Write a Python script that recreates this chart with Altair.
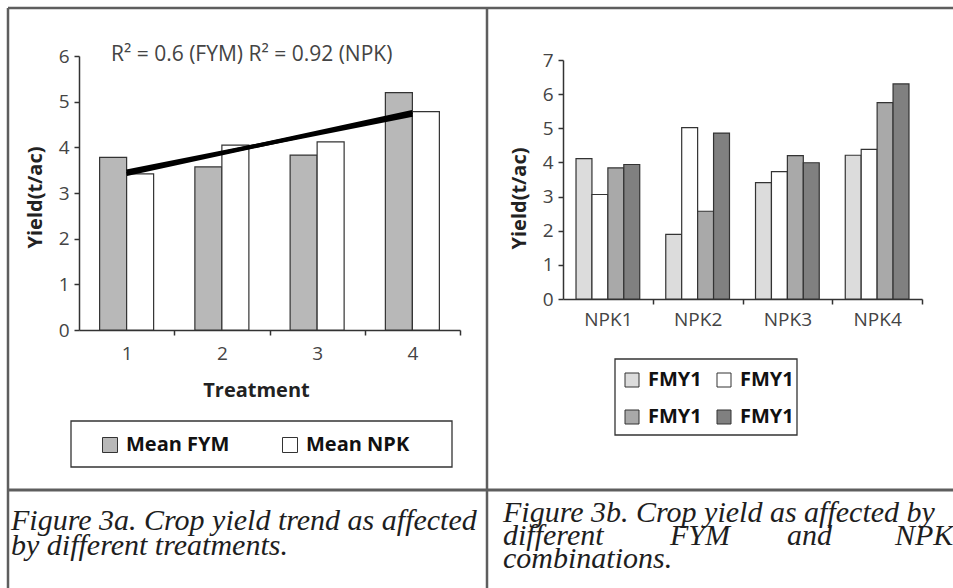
import altair as alt
import pandas as pd

# ---- Figure 3a: mean yields per treatment ----
treatment = [1, 2, 3, 4]
mean_fym = [3.78, 3.57, 3.83, 5.20]
mean_npk = [3.42, 4.05, 4.12, 4.78]
left_series = ["Mean FYM", "Mean NPK"]

# ---- Figure 3b: yields per FYM / NPK combination ----
combos = ["NPK1", "NPK2", "NPK3", "NPK4"]
fmy_a = [4.11, 1.89, 3.41, 4.21]
fmy_b = [3.06, 5.02, 3.73, 4.38]
fmy_c = [3.84, 2.57, 4.20, 5.75]
fmy_d = [3.94, 4.86, 3.99, 6.30]
right_series = ["a", "b", "c", "d"]

FONT = "Open Sans"
SERIF = "Liberation Serif"
INK = "#333333"
LABEL = "#444444"

left_df = pd.DataFrame(
    [{"t": t, "series": left_series[0], "v": v} for t, v in zip(treatment, mean_fym)]
    + [{"t": t, "series": left_series[1], "v": v} for t, v in zip(treatment, mean_npk)]
)
right_df = pd.DataFrame(
    [
        {"combo": c, "series": s, "v": v}
        for s, vals in zip(right_series, [fmy_a, fmy_b, fmy_c, fmy_d])
        for c, v in zip(combos, vals)
    ]
)
one = pd.DataFrame({"k": [0]})

# ---------------- left panel ----------------
XL = (79, 460)
XL_STEP = (XL[1] - XL[0]) / len(treatment)
xl_scale = alt.Scale(domain=treatment, range=list(XL), paddingInner=0.433, paddingOuter=0.2165)
yl_scale = alt.Scale(domain=[0, 6], range=[330, 56], nice=False)

# ticks sit between the categories, labels stay centred under them
xl_axis = alt.Axis(
    orient="bottom", offset=-258, title="Treatment", titleX=256, titleY=60,
    titleBaseline="middle", titleFont=FONT, titleFontSize=20, titleFontWeight="bold",
    titleColor="#222", labelAngle=0, labelFont=FONT, labelFontSize=19, labelColor=LABEL,
    labelPadding=9, tickOffset=XL_STEP / 2, labelOffset=-XL_STEP / 2, tickSize=5,
    tickColor=INK, domainColor=INK, domainWidth=1.5, tickWidth=1.5,
)
yl_axis = alt.Axis(
    orient="left", offset=-79, values=[0, 1, 2, 3, 4, 5, 6], title="Yield(t/ac)",
    titleAngle=270, titleAlign="center", titleBaseline="middle", titleX=-44, titleY=197,
    titleFont=FONT, titleFontSize=20, titleFontWeight="bold", titleColor="#222",
    labelFont=FONT, labelFontSize=19, labelColor=LABEL, labelPadding=5, tickSize=5,
    tickColor=INK, domainColor=INK, domainWidth=1.5, tickWidth=1.5, grid=False,
)

left_bars = alt.Chart(left_df).mark_bar(stroke=INK, strokeWidth=1.2).encode(
    x=alt.X("t:O", scale=xl_scale, axis=xl_axis),
    xOffset=alt.XOffset("series:N", scale=alt.Scale(domain=left_series, paddingInner=0)),
    y=alt.Y("v:Q", scale=yl_scale, axis=yl_axis),
    color=alt.Color(
        "series:N",
        scale=alt.Scale(domain=left_series, range=["#b8b8b8", "#ffffff"]),
        legend=alt.Legend(
            orient="none", legendX=100, legendY=435, direction="horizontal", columns=2,
            columnPadding=50, title=None, symbolType="square", symbolSize=225,
            symbolStrokeColor=INK, symbolStrokeWidth=1, labelFont=FONT, labelFontSize=20,
            labelFontWeight="bold", labelColor="#111", labelOffset=6, padding=0,
        ),
    ),
)

# linear trend of each series (the two fits lie almost on top of each other)
left_trend = alt.Chart(left_df).transform_regression(
    "t", "v", groupby=["series"]
).mark_line(color="black", strokeWidth=4).encode(
    x=alt.X("t:O", scale=xl_scale, axis=xl_axis),
    y=alt.Y("v:Q", scale=yl_scale, axis=yl_axis),
    detail="series:N",
)

r2_text = alt.Chart(one).mark_text(
    text="R² = 0.6 (FYM)  R² = 0.92 (NPK)", font=FONT, fontSize=21, color=LABEL,
    align="left", baseline="alphabetic",
).encode(x=alt.value(111), y=alt.value(61))

left_panel = alt.layer(left_bars, left_trend)

# ---------------- right panel ----------------
XR = (563, 922)
XR_STEP = (XR[1] - XR[0]) / len(combos)
xr_scale = alt.Scale(domain=combos, range=list(XR), paddingInner=0.29, paddingOuter=0.145)
yr_scale = alt.Scale(domain=[0, 7], range=[299, 60], nice=False)

right_bars = alt.Chart(right_df).mark_bar(stroke=INK, strokeWidth=1.2).encode(
    x=alt.X(
        "combo:N", scale=xr_scale,
        axis=alt.Axis(
            orient="bottom", offset=-289, title=None, labelAngle=0, labelFont=FONT,
            labelFontSize=19, labelColor=LABEL, labelPadding=6, tickOffset=XR_STEP / 2,
            labelOffset=-XR_STEP / 2, tickSize=5, tickColor=INK, domainColor=INK,
            domainWidth=1.5, tickWidth=1.5,
        ),
    ),
    xOffset=alt.XOffset("series:N", scale=alt.Scale(domain=right_series, paddingInner=0)),
    y=alt.Y(
        "v:Q", scale=yr_scale,
        axis=alt.Axis(
            orient="left", offset=-563, values=[0, 1, 2, 3, 4, 5, 6, 7], title="Yield(t/ac)",
            titleAngle=270, titleAlign="center", titleBaseline="middle", titleX=-44,
            titleY=198, titleFont=FONT, titleFontSize=20, titleFontWeight="bold",
            titleColor="#222", labelFont=FONT, labelFontSize=19, labelColor=LABEL,
            labelPadding=5, tickSize=5, tickColor=INK, domainColor=INK, domainWidth=1.5,
            tickWidth=1.5, grid=False,
        ),
    ),
    color=alt.Color(
        "series:N",
        scale=alt.Scale(domain=right_series, range=["#dcdcdc", "#ffffff", "#a9a9a9", "#808080"]),
        legend=alt.Legend(
            orient="none", legendX=622, legendY=370, direction="horizontal", columns=2,
            columnPadding=12, rowPadding=17, title=None, symbolType="square", symbolSize=196,
            symbolStrokeColor=INK, symbolStrokeWidth=1, labelFont=FONT, labelFontSize=20,
            labelFontWeight="bold", labelColor="#111", labelOffset=6, padding=0,
            labelExpr="'FMY1'",
        ),
    ),
)


# ---------------- frames, table rules and captions ----------------
def frame(x1, y1, x2, y2):
    return alt.Chart(one).mark_rect(fillOpacity=0, stroke=INK, strokeWidth=1.3).encode(
        x=alt.value(x1), x2=alt.value(x2), y=alt.value(y1), y2=alt.value(y2)
    )


def rule(x1, y1, x2, y2, w=2.5):
    return alt.Chart(one).mark_rule(color="#5e5e5e", strokeWidth=w).encode(
        x=alt.value(x1), x2=alt.value(x2), y=alt.value(y1), y2=alt.value(y2)
    )


def caption(txt, x, y):
    return alt.Chart(one).mark_text(
        text=txt, font=SERIF, fontStyle="italic", fontSize=30, color="#1e1e1e",
        align="left", baseline="alphabetic",
    ).encode(x=alt.value(x), y=alt.value(y))


decor = [
    frame(71, 421, 452, 467),
    frame(615, 359, 797, 435),
    rule(8, 8, 953, 8),
    rule(8, 8, 8, 588),
    rule(487, 8, 487, 588),
    rule(8, 490, 953, 490, 3),
    caption("Figure 3a. Crop yield trend as affected", 11, 530),
    caption("by  different treatments.", 11, 555),
    caption("Figure 3b. Crop yield as affected by", 503, 522),
    caption("different", 503, 545),
    caption("FYM", 670, 545),
    caption("and", 787, 545),
    caption("NPK", 895, 545),
    caption("combinations.", 503, 568),
]

chart = alt.layer(left_panel, right_bars, r2_text, *decor).resolve_scale(
    x="independent", y="independent", color="independent", xOffset="independent"
).properties(
    width=953, height=588, padding=0, autosize=alt.AutoSizeParams(type="none"),
    background="white",
).configure_view(stroke=None)

chart.save("out.html", embed_options={"renderer": "svg", "actions": False})
